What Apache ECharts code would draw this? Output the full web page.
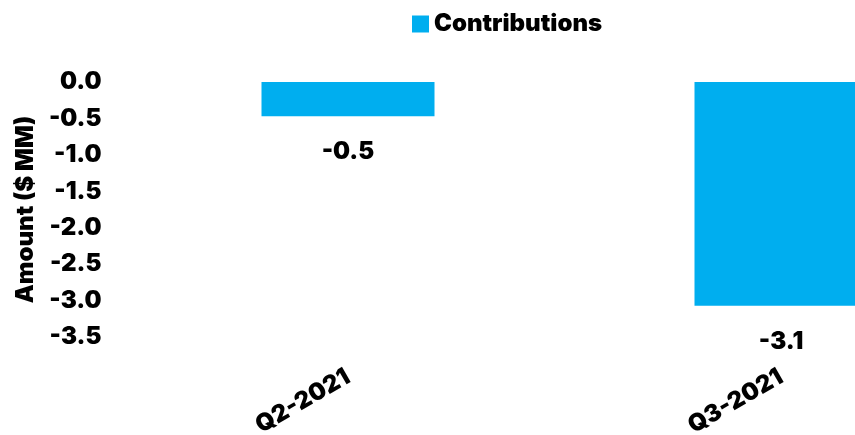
<!DOCTYPE html>
<html>
<head>
<meta charset="utf-8">
<script src="https://cdn.jsdelivr.net/npm/echarts@6/dist/echarts.min.js"></script>
<style>
  html, body { margin: 0; padding: 0; background: #fff; }
  #chart { width: 855px; height: 435px; }
</style>
</head>
<body>
<div id="chart"></div>
<script>
// Quarterly contributions, in $ MM
const categories = ['Q2-2021', 'Q3-2021'];
const contributions = [-0.47, -3.07];
const yTicks = { min: -3.5, max: 0, interval: 0.5 };

const FONT = 'Inter, "DejaVu Sans", sans-serif';
const BLUE = '#00AEEF';
const TXT = { fontFamily: FONT, fontWeight: 900, fontSize: 24, color: '#000' };

const chart = echarts.init(document.getElementById('chart'));
chart.setOption({
  animation: false,
  textStyle: { fontFamily: FONT },
  legend: {
    top: 7,
    left: 407,
    itemWidth: 17,
    itemHeight: 17,
    itemGap: 8,
    icon: 'rect',
    textStyle: Object.assign({}, TXT),
    data: ['Contributions']
  },
  // category points sit on the grid edges; the y axis is pushed out to the left
  grid: { left: 348, right: 74, top: 82, height: 255, containLabel: false, outerBoundsMode: 'none' },
  xAxis: {
    type: 'category',
    boundaryGap: false,
    data: categories,
    axisLine: { show: false },
    axisTick: { show: false },
    axisLabel: Object.assign({ rotate: 30, margin: 38 }, TXT)
  },
  yAxis: {
    type: 'value',
    offset: 216.5,
    min: yTicks.min,
    max: yTicks.max,
    interval: yTicks.interval,
    name: 'Amount ($ MM)',
    nameLocation: 'middle',
    nameGap: 80,
    nameTextStyle: Object.assign({}, TXT),
    splitLine: { show: false },
    axisLine: { show: false },
    axisTick: { show: false },
    axisLabel: Object.assign({ margin: 30, formatter: v => v.toFixed(1) }, TXT)
  },
  series: [{
    name: 'Contributions',
    type: 'bar',
    clip: false,
    data: contributions,
    barWidth: 173,
    itemStyle: { color: BLUE },
    label: Object.assign({
      show: true,
      position: 'bottom',
      distance: 24,
      formatter: p => p.value.toFixed(1)
    }, TXT)
  }]
});
</script>
</body>
</html>
